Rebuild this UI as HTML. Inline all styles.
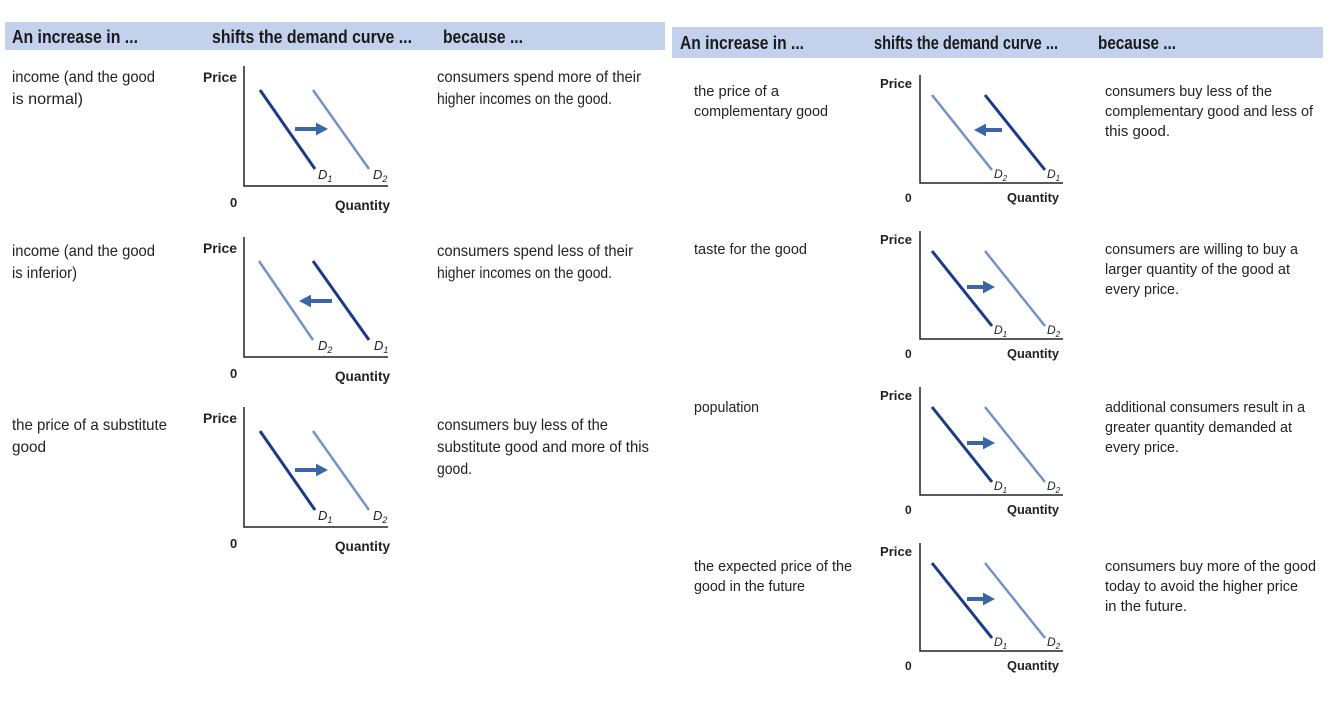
<!DOCTYPE html>
<html><head><meta charset="utf-8"><style>
html,body{margin:0;padding:0;background:#fff;width:1334px;height:720px;overflow:hidden}
svg text{font-family:"Liberation Sans",sans-serif}
</style></head><body>
<svg width="1334" height="720" xmlns="http://www.w3.org/2000/svg">
<defs>
<marker id="ah" markerWidth="4" markerHeight="4" refX="2" refY="2" orient="auto" markerUnits="strokeWidth"><path d="M0,0.4 L3,2 L0,3.6 Z" fill="#3a66a8"/></marker>
</defs>
<rect x="5" y="22" width="660" height="28" fill="#c3d1ec"/>
<rect x="672" y="27" width="651" height="31" fill="#c3d1ec"/>
<g font-size="18" font-weight="bold" fill="#1a1a1a" lengthAdjust="spacingAndGlyphs">
<text x="12" y="43" textLength="126" lengthAdjust="spacingAndGlyphs">An increase in ...</text>
<text x="212" y="43" textLength="200" lengthAdjust="spacingAndGlyphs">shifts the demand curve ...</text>
<text x="443" y="43" textLength="80" lengthAdjust="spacingAndGlyphs">because ...</text>
<text x="680" y="49" textLength="124" lengthAdjust="spacingAndGlyphs">An increase in ...</text>
<text x="874" y="49" textLength="184" lengthAdjust="spacingAndGlyphs">shifts the demand curve ...</text>
<text x="1098" y="49" textLength="78" lengthAdjust="spacingAndGlyphs">because ...</text>
</g>
<g font-size="16" fill="#222">
<text x="12" y="82" textLength="143" lengthAdjust="spacingAndGlyphs">income (and the good</text><text x="12" y="104" textLength="71" lengthAdjust="spacingAndGlyphs">is normal)</text>
<text x="437" y="82" textLength="204" lengthAdjust="spacingAndGlyphs">consumers spend more of their</text><text x="437" y="104" textLength="175" lengthAdjust="spacingAndGlyphs">higher incomes on the good.</text>
<text x="12" y="256" textLength="143" lengthAdjust="spacingAndGlyphs">income (and the good</text><text x="12" y="278" textLength="65" lengthAdjust="spacingAndGlyphs">is inferior)</text>
<text x="437" y="256" textLength="196" lengthAdjust="spacingAndGlyphs">consumers spend less of their</text><text x="437" y="278" textLength="175" lengthAdjust="spacingAndGlyphs">higher incomes on the good.</text>
<text x="12" y="430" textLength="155" lengthAdjust="spacingAndGlyphs">the price of a substitute</text><text x="12" y="452" textLength="34" lengthAdjust="spacingAndGlyphs">good</text>
<text x="437" y="430" textLength="171" lengthAdjust="spacingAndGlyphs">consumers buy less of the</text><text x="437" y="452" textLength="212" lengthAdjust="spacingAndGlyphs">substitute good and more of this</text><text x="437" y="474" textLength="35" lengthAdjust="spacingAndGlyphs">good.</text>
</g>
<g font-size="15" fill="#222">
<text x="694" y="96" textLength="85" lengthAdjust="spacingAndGlyphs">the price of a</text><text x="694" y="116" textLength="134" lengthAdjust="spacingAndGlyphs">complementary good</text>
<text x="1105" y="96" textLength="167" lengthAdjust="spacingAndGlyphs">consumers buy less of the</text><text x="1105" y="116" textLength="208" lengthAdjust="spacingAndGlyphs">complementary good and less of</text><text x="1105" y="136" textLength="65" lengthAdjust="spacingAndGlyphs">this good.</text>
<text x="694" y="254" textLength="113" lengthAdjust="spacingAndGlyphs">taste for the good</text>
<text x="1105" y="254" textLength="193" lengthAdjust="spacingAndGlyphs">consumers are willing to buy a</text><text x="1105" y="274" textLength="185" lengthAdjust="spacingAndGlyphs">larger quantity of the good at</text><text x="1105" y="294" textLength="74" lengthAdjust="spacingAndGlyphs">every price.</text>
<text x="694" y="412" textLength="65" lengthAdjust="spacingAndGlyphs">population</text>
<text x="1105" y="412" textLength="200" lengthAdjust="spacingAndGlyphs">additional consumers result in a</text><text x="1105" y="432" textLength="187" lengthAdjust="spacingAndGlyphs">greater quantity demanded at</text><text x="1105" y="452" textLength="74" lengthAdjust="spacingAndGlyphs">every price.</text>
<text x="694" y="571" textLength="158" lengthAdjust="spacingAndGlyphs">the expected price of the</text><text x="694" y="591" textLength="111" lengthAdjust="spacingAndGlyphs">good in the future</text>
<text x="1105" y="571" textLength="211" lengthAdjust="spacingAndGlyphs">consumers buy more of the good</text><text x="1105" y="591" textLength="193" lengthAdjust="spacingAndGlyphs">today to avoid the higher price</text><text x="1105" y="611" textLength="82" lengthAdjust="spacingAndGlyphs">in the future.</text>
</g>

<!-- left graphs -->
<g transform="translate(244,186)">
<path d="M0,-120 V0 H144" stroke="#222" stroke-width="1.5" fill="none"/>
<text x="-41" y="-104" font-size="14" font-weight="bold" fill="#222" textLength="34" lengthAdjust="spacingAndGlyphs">Price</text>
<text x="-14" y="21" font-size="13" font-weight="bold" fill="#222">0</text>
<text x="91" y="24" font-size="14" font-weight="bold" fill="#222" textLength="55" lengthAdjust="spacingAndGlyphs">Quantity</text>
<line x1="16" y1="-96" x2="71" y2="-17" stroke="#1a3a8a" stroke-width="3"/>
<line x1="69" y1="-96" x2="125" y2="-17" stroke="#7592c8" stroke-width="2.5"/>
<line x1="51" y1="-57" x2="80" y2="-57" stroke="#3a66a8" stroke-width="4" marker-end="url(#ah)"/>
<text x="74" y="-7" font-size="13" font-style="italic" fill="#222">D<tspan font-size="9" dy="3">1</tspan></text>
<text x="129" y="-7" font-size="13" font-style="italic" fill="#222">D<tspan font-size="9" dy="3">2</tspan></text>
</g>
<g transform="translate(244,357)">
<path d="M0,-120 V0 H144" stroke="#222" stroke-width="1.5" fill="none"/>
<text x="-41" y="-104" font-size="14" font-weight="bold" fill="#222" textLength="34" lengthAdjust="spacingAndGlyphs">Price</text>
<text x="-14" y="21" font-size="13" font-weight="bold" fill="#222">0</text>
<text x="91" y="24" font-size="14" font-weight="bold" fill="#222" textLength="55" lengthAdjust="spacingAndGlyphs">Quantity</text>
<line x1="15" y1="-96" x2="69" y2="-17" stroke="#7592c8" stroke-width="2.5"/>
<line x1="69" y1="-96" x2="125" y2="-17" stroke="#1a3a8a" stroke-width="3"/>
<line x1="88" y1="-56" x2="59" y2="-56" stroke="#3a66a8" stroke-width="4" marker-end="url(#ah)"/>
<text x="74" y="-7" font-size="13" font-style="italic" fill="#222">D<tspan font-size="9" dy="3">2</tspan></text>
<text x="130" y="-7" font-size="13" font-style="italic" fill="#222">D<tspan font-size="9" dy="3">1</tspan></text>
</g>
<g transform="translate(244,527)">
<path d="M0,-120 V0 H144" stroke="#222" stroke-width="1.5" fill="none"/>
<text x="-41" y="-104" font-size="14" font-weight="bold" fill="#222" textLength="34" lengthAdjust="spacingAndGlyphs">Price</text>
<text x="-14" y="21" font-size="13" font-weight="bold" fill="#222">0</text>
<text x="91" y="24" font-size="14" font-weight="bold" fill="#222" textLength="55" lengthAdjust="spacingAndGlyphs">Quantity</text>
<line x1="16" y1="-96" x2="71" y2="-17" stroke="#1a3a8a" stroke-width="3"/>
<line x1="69" y1="-96" x2="125" y2="-17" stroke="#7592c8" stroke-width="2.5"/>
<line x1="51" y1="-57" x2="80" y2="-57" stroke="#3a66a8" stroke-width="4" marker-end="url(#ah)"/>
<text x="74" y="-7" font-size="13" font-style="italic" fill="#222">D<tspan font-size="9" dy="3">1</tspan></text>
<text x="129" y="-7" font-size="13" font-style="italic" fill="#222">D<tspan font-size="9" dy="3">2</tspan></text>
</g>

<!-- right graphs -->
<g transform="translate(920,183)">
<path d="M0,-108 V0 H143" stroke="#222" stroke-width="1.5" fill="none"/>
<text x="-40" y="-95" font-size="13" font-weight="bold" fill="#222" textLength="32" lengthAdjust="spacingAndGlyphs">Price</text>
<text x="-15" y="19" font-size="12" font-weight="bold" fill="#222">0</text>
<text x="87" y="19" font-size="13" font-weight="bold" fill="#222" textLength="52" lengthAdjust="spacingAndGlyphs">Quantity</text>
<line x1="12" y1="-88" x2="72" y2="-13" stroke="#7592c8" stroke-width="2.5"/>
<line x1="65" y1="-88" x2="125" y2="-13" stroke="#1a3a8a" stroke-width="3"/>
<line x1="82" y1="-53" x2="58" y2="-53" stroke="#3a66a8" stroke-width="4" marker-end="url(#ah)"/>
<text x="74" y="-5" font-size="12" font-style="italic" fill="#222">D<tspan font-size="8" dy="3">2</tspan></text>
<text x="127" y="-5" font-size="12" font-style="italic" fill="#222">D<tspan font-size="8" dy="3">1</tspan></text>
</g>
<g transform="translate(920,339)">
<path d="M0,-108 V0 H143" stroke="#222" stroke-width="1.5" fill="none"/>
<text x="-40" y="-95" font-size="13" font-weight="bold" fill="#222" textLength="32" lengthAdjust="spacingAndGlyphs">Price</text>
<text x="-15" y="19" font-size="12" font-weight="bold" fill="#222">0</text>
<text x="87" y="19" font-size="13" font-weight="bold" fill="#222" textLength="52" lengthAdjust="spacingAndGlyphs">Quantity</text>
<line x1="12" y1="-88" x2="72" y2="-13" stroke="#1a3a8a" stroke-width="3"/>
<line x1="65" y1="-88" x2="125" y2="-13" stroke="#7592c8" stroke-width="2.5"/>
<line x1="47" y1="-52" x2="71" y2="-52" stroke="#3a66a8" stroke-width="4" marker-end="url(#ah)"/>
<text x="74" y="-5" font-size="12" font-style="italic" fill="#222">D<tspan font-size="8" dy="3">1</tspan></text>
<text x="127" y="-5" font-size="12" font-style="italic" fill="#222">D<tspan font-size="8" dy="3">2</tspan></text>
</g>
<g transform="translate(920,495)">
<path d="M0,-108 V0 H143" stroke="#222" stroke-width="1.5" fill="none"/>
<text x="-40" y="-95" font-size="13" font-weight="bold" fill="#222" textLength="32" lengthAdjust="spacingAndGlyphs">Price</text>
<text x="-15" y="19" font-size="12" font-weight="bold" fill="#222">0</text>
<text x="87" y="19" font-size="13" font-weight="bold" fill="#222" textLength="52" lengthAdjust="spacingAndGlyphs">Quantity</text>
<line x1="12" y1="-88" x2="72" y2="-13" stroke="#1a3a8a" stroke-width="3"/>
<line x1="65" y1="-88" x2="125" y2="-13" stroke="#7592c8" stroke-width="2.5"/>
<line x1="47" y1="-52" x2="71" y2="-52" stroke="#3a66a8" stroke-width="4" marker-end="url(#ah)"/>
<text x="74" y="-5" font-size="12" font-style="italic" fill="#222">D<tspan font-size="8" dy="3">1</tspan></text>
<text x="127" y="-5" font-size="12" font-style="italic" fill="#222">D<tspan font-size="8" dy="3">2</tspan></text>
</g>
<g transform="translate(920,651)">
<path d="M0,-108 V0 H143" stroke="#222" stroke-width="1.5" fill="none"/>
<text x="-40" y="-95" font-size="13" font-weight="bold" fill="#222" textLength="32" lengthAdjust="spacingAndGlyphs">Price</text>
<text x="-15" y="19" font-size="12" font-weight="bold" fill="#222">0</text>
<text x="87" y="19" font-size="13" font-weight="bold" fill="#222" textLength="52" lengthAdjust="spacingAndGlyphs">Quantity</text>
<line x1="12" y1="-88" x2="72" y2="-13" stroke="#1a3a8a" stroke-width="3"/>
<line x1="65" y1="-88" x2="125" y2="-13" stroke="#7592c8" stroke-width="2.5"/>
<line x1="47" y1="-52" x2="71" y2="-52" stroke="#3a66a8" stroke-width="4" marker-end="url(#ah)"/>
<text x="74" y="-5" font-size="12" font-style="italic" fill="#222">D<tspan font-size="8" dy="3">1</tspan></text>
<text x="127" y="-5" font-size="12" font-style="italic" fill="#222">D<tspan font-size="8" dy="3">2</tspan></text>
</g>
</svg>
</body></html>
